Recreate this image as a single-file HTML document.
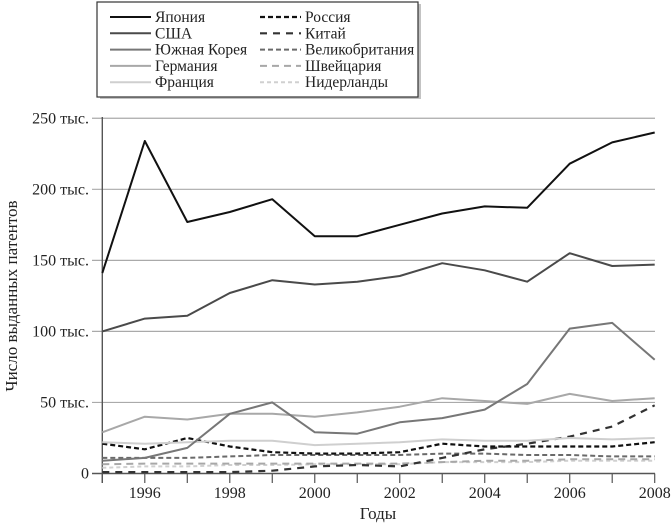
<!DOCTYPE html>
<html><head><meta charset="utf-8"><style>
body{margin:0;background:#fff;}
svg{display:block;font-family:"Liberation Serif",serif;}
</style></head><body>
<svg id="c" width="671" height="525" xmlns="http://www.w3.org/2000/svg">
<g id="grid"></g>
<g id="axes"></g>
<g id="series"></g>
<text x="0" y="0" transform="translate(17,296) rotate(-90)" text-anchor="middle" font-size="17" fill="#222">Число выданных патентов</text>
<text x="378" y="519" text-anchor="middle" font-size="17" fill="#222">Годы</text>
<g>
<rect x="100" y="4" width="321" height="95" fill="#888" opacity="0.5"/>
<rect x="97" y="2" width="321" height="95" fill="#fff" stroke="#333" stroke-width="1.2"/>
<g id="legend"></g>
</g>
</svg>
<script>
const years=[1995,1996,1997,1998,1999,2000,2001,2002,2003,2004,2005,2006,2007,2008];
const yTicks=[0,50,100,150,200,250];
const yTickLabels=["0","50 тыс.","100 тыс.","150 тыс.","200 тыс.","250 тыс."];
const xTickLabels=[1996,1998,2000,2002,2004,2006,2008];
const seriesNames=["Япония","США","Южная Корея","Германия","Франция","Россия","Китай","Великобритания","Швейцария","Нидерланды"];
const japan=[141,234,177,184,193,167,167,175,183,188,187,218,233,240];
const usa=[100,109,111,127,136,133,135,139,148,143,135,155,146,147];
const korea=[9,11,18,42,50,29,28,36,39,45,63,102,106,80];
const germany=[29,40,38,42,42,40,43,47,53,51,49,56,51,53];
const france=[22,21,22,23,23,20,21,22,24,23,23,25,24,25];
const russia=[21,17,25,19,15,14,14,15,21,19,19,19,19,22];
const china=[1,1,1,1,2,5,6,5,11,17,21,26,33,48];
const uk=[11,11,11,12,13,13,13,13,14,14,13,13,12,12];
const swiss=[6.5,7,7,7,7,7,7,7,8,9,9,10,10,10];
const netherlands=[4,5,5,6,6,6.5,6.5,6.5,8,8,8,9,9,9];
const styles=[["#111",2,""],["#4a4a4a",2,""],["#777",2,""],["#a8a8a8",2,""],["#cfcfcf",2,""],["#111",2.2,"5,3"],["#333",2.2,"7,6"],["#6a6a6a",2,"5,3"],["#a8a8a8",2,"7,5"],["#d0d0d0",2,"4,3"]];
const allSeries=[japan,usa,korea,germany,france,russia,china,uk,swiss,netherlands];
const slugs=["japan","usa","south-korea","germany","france","russia","china","uk","switzerland","netherlands"];
const NS="http://www.w3.org/2000/svg";
const X=y=>102.3+(y-1995)*(654.7-102.3)/13;
const Y=v=>473.5-v*1.421;
function mk(t,a,p){const e=document.createElementNS(NS,t);for(const k in a)e.setAttribute(k,a[k]);p.appendChild(e);return e;}
const grid=document.getElementById('grid'),axes=document.getElementById('axes'),ser=document.getElementById('series'),leg=document.getElementById('legend');
yTicks.forEach((v,i)=>{
 if(v>0){const l=mk('line',{x1:92,x2:655,y1:Y(v),y2:Y(v),stroke:'#aaa','stroke-width':1.2},grid);
 
 }
 const t=mk('text',{x:89,y:Y(v)+5,'text-anchor':'end','font-size':16,fill:'#222'},axes);t.textContent=yTickLabels[i];
 
 
});
mk('line',{x1:102.3,x2:102.3,y1:117,y2:483,stroke:'#555','stroke-width':1.4},axes);
mk('line',{x1:92,x2:655,y1:473.5,y2:473.5,stroke:'#555','stroke-width':1.4},axes);
years.forEach(y=>{mk('line',{x1:X(y),x2:X(y),y1:473.5,y2:483,stroke:'#555','stroke-width':1.2},axes);});
xTickLabels.forEach(y=>{const t=mk('text',{x:X(y),y:498,'text-anchor':'middle','font-size':16,fill:'#222'},axes);t.textContent=y;
 
 });
for(let s=allSeries.length-1;s>=0;s--){
 const d=allSeries[s].map((v,i)=>(i?'L':'M')+X(years[i]).toFixed(1)+','+Y(v).toFixed(1)).join('');
 const p=mk('path',{d:d,fill:'none',stroke:styles[s][0],'stroke-width':styles[s][1],'stroke-dasharray':styles[s][2],'stroke-linejoin':'round'},ser);
 
 
}
seriesNames.forEach((n,i)=>{
 const col=i<5?0:1,row=i%5;const lx=col?260:110,ty=17+row*16.3;
 const g=mk('g',{},leg);
 
 
 mk('line',{x1:lx,x2:lx+41,y1:ty,y2:ty,stroke:styles[i][0],'stroke-width':styles[i][1],'stroke-dasharray':styles[i][2]},g);
 const t=mk('text',{x:lx+45,y:ty+5,'font-size':15.5,fill:'#222'},g);t.textContent=n;
});
</script>
</body></html>
